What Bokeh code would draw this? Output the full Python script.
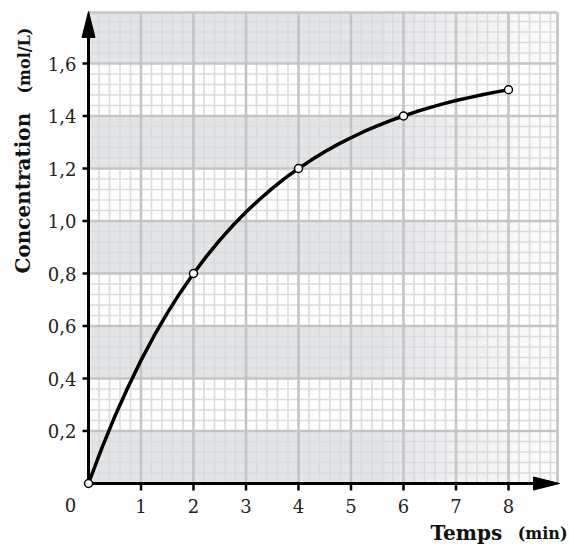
import numpy as np
from bokeh.plotting import figure
from bokeh.models import Range1d
from bokeh.core.properties import value
from bokeh.embed import file_html
from bokeh.resources import INLINE

# ---- data ----
times = [0, 2, 4, 6, 8]
conc = [0.0, 0.8, 1.2, 1.4, 1.5]
curve_t = [0, 0.25, 0.5, 0.75, 1, 1.25, 1.5, 1.75, 2, 2.25, 2.5, 2.75, 3, 3.25, 3.5, 3.75,
           4, 4.25, 4.5, 4.75, 5, 5.25, 5.5, 5.75, 6, 6.25, 6.5, 6.75, 7, 7.25, 7.5, 7.75, 8]
curve_c = [0.0, 0.133, 0.255, 0.366, 0.469, 0.563, 0.649, 0.728, 0.8, 0.866, 0.927, 0.983,
           1.034, 1.081, 1.124, 1.164, 1.2, 1.233, 1.264, 1.292, 1.317, 1.341, 1.362, 1.382,
           1.4, 1.417, 1.432, 1.446, 1.459, 1.470, 1.481, 1.491, 1.5]
x_ticks = [1, 2, 3, 4, 5, 6, 7, 8]
x_labels = ["1", "2", "3", "4", "5", "6", "7", "8"]
y_ticks = [0.2, 0.4, 0.6, 0.8, 1.0, 1.2, 1.4, 1.6]
y_labels = ["0,2", "0,4", "0,6", "0,8", "1,0", "1,2", "1,4", "1,6"]
origin_label = "0"
x_title = "Temps"
x_unit = "(min)"
y_title = "Concentration"
y_unit = "(mol/L)"

# ---- layout helpers (pixel -> data) ----
W, H = 569, 546
X0, SX = 88.0, 52.5
Y0, SY = 483.0, 262.5
def dx(px): return (px - X0) / SX
def dy(py): return (Y0 - py) / SY

XMAX = dx(557)
YMAX = dy(12)

p = figure(width=W, height=H, output_backend="svg", toolbar_location=None,
           x_range=Range1d(dx(0), dx(W)), y_range=Range1d(dy(H), dy(0)),
           min_border=0, min_border_left=0, min_border_right=0,
           min_border_top=0, min_border_bottom=0)
p.axis.visible = False
p.grid.visible = False
p.outline_line_color = None
p.background_fill_color = "white"
p.border_fill_color = "white"

# ---- bands (alternating gray, fading to the right) ----
GRAY = "#e3e4e6"
fade_start = 5.6
nb = int(round(YMAX / 0.2 + 0.5))
band_b, band_t = [], []
for k in range(nb):
    if k % 2 == 0:
        band_b.append(0.2 * k)
        band_t.append(min(0.2 * (k + 1), YMAX))
p.quad(left=0, right=fade_start, bottom=band_b, top=band_t, fill_color=GRAY, line_color=None)
nsl = 40
edges = np.linspace(fade_start, XMAX, nsl + 1)
for i in range(nsl):
    a = 1.0 - (i + 0.5) / nsl * 0.95
    p.quad(left=edges[i], right=edges[i + 1] + 0.001, bottom=band_b, top=band_t,
           fill_color=GRAY, fill_alpha=a, line_color=None)

# ---- grid ----
MINOR = "#dadbdd"
MAJOR = "#c4c5c7"
vx = [0.2 * k for k in range(1, int(XMAX / 0.2) + 1) if k % 5 != 0]
hy = [0.04 * k for k in range(1, int(YMAX / 0.04 + 1e-6) + 1) if k % 5 != 0]
p.segment(x0=vx, y0=0, x1=vx, y1=YMAX, line_color=MINOR, line_width=1.6)
p.segment(x0=0, y0=hy, x1=XMAX, y1=hy, line_color=MINOR, line_width=1.6)
mvx = list(range(1, 9)) + [XMAX]
mhy = [0.2 * k for k in range(1, 9)] + [YMAX]
p.segment(x0=mvx, y0=0, x1=mvx, y1=YMAX, line_color=MAJOR, line_width=2.6)
p.segment(x0=0, y0=mhy, x1=XMAX, y1=mhy, line_color=MAJOR, line_width=2.6)

# ---- axes with arrows ----
p.line([0, 0], [dy(486), dy(32)], line_color="black", line_width=3)
p.line([dx(85), dx(536)], [0, 0], line_color="black", line_width=3)
p.patch([0, dx(88 - 6.5), dx(88 + 6.5)], [dy(11), dy(37), dy(37)], fill_color="black", line_color="black")
p.patch([dx(559), dx(533), dx(533)], [0, dy(483 - 6.5), dy(483 + 6.5)], fill_color="black", line_color="black")

# ticks
p.segment(x0=dx(82), y0=y_ticks, x1=0, y1=y_ticks, line_color="black", line_width=2.5)
p.segment(x0=x_ticks, y0=0, x1=x_ticks, y1=dy(490), line_color="black", line_width=2.5)

# ---- curve & points ----
p.line(curve_t, curve_c, line_color="black", line_width=3.5, line_join="round", line_cap="round")
p.scatter(times, conc, size=8, fill_color="white", line_color="black", line_width=1.5)

# ---- labels ----
FONT = value("DejaVu Serif")
p.text(x=[dx(76)] * len(y_ticks), y=y_ticks, text=y_labels, text_font=FONT,
       text_font_size=value("18px"), text_align="right", text_baseline="middle", text_color="#222222")
p.text(x=x_ticks, y=[dy(505)] * len(x_ticks), text=x_labels, text_font=FONT,
       text_font_size=value("18px"), text_align="center", text_baseline="middle", text_color="#222222")
p.text(x=[dx(70)], y=[dy(504)], text=[origin_label], text_font=FONT,
       text_font_size=value("18px"), text_align="center", text_baseline="middle", text_color="#222222")

p.text(x=[dx(430)], y=[dy(532)], text=[x_title], text_font=FONT, text_font_style="bold",
       text_font_size=value("20px"), text_align="left", text_baseline="middle", text_color="#111111")
p.text(x=[dx(567)], y=[dy(533)], text=[x_unit], text_font=FONT, text_font_style="bold",
       text_font_size=value("16px"), text_align="right", text_baseline="middle", text_color="#111111")

p.text(x=[dx(22)], y=[dy(273)], text=[y_title], angle=np.pi / 2, text_font=FONT, text_font_style="bold",
       text_font_size=value("20px"), text_align="left", text_baseline="middle", text_color="#111111")
p.text(x=[dx(24)], y=[dy(93)], text=[y_unit], angle=np.pi / 2, text_font=FONT, text_font_style="bold",
       text_font_size=value("16px"), text_align="left", text_baseline="middle", text_color="#111111")

open("out.html", "w").write(file_html(p, INLINE))
